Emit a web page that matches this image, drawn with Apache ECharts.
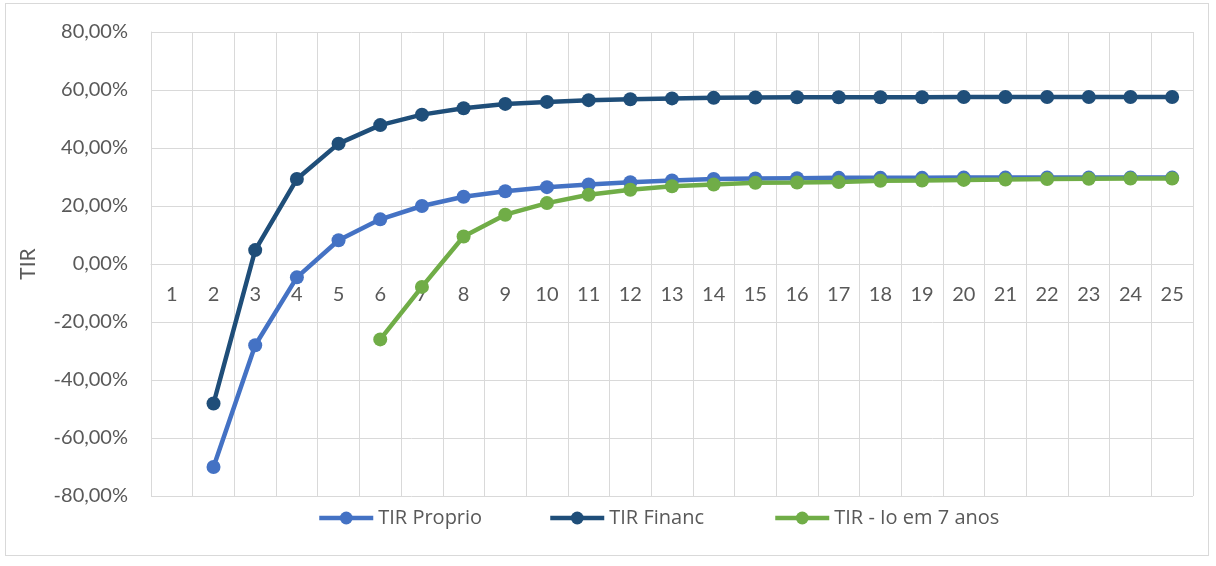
<!DOCTYPE html>
<html>
<head>
<meta charset="utf-8">
<script src="https://cdn.jsdelivr.net/npm/echarts@6/dist/echarts.min.js"></script>
<style>
  html, body { margin: 0; padding: 0; background: #fff; }
  #frame { position: absolute; left: 5px; top: 3px; width: 1204px; height: 553px; border: 1px solid #d9d9d9; box-sizing: border-box; }
  #chart { position: absolute; left: 0; top: 0; width: 1216px; height: 566px; }
</style>
</head>
<body>
<div id="frame"></div>
<div id="chart"></div>
<script>
// anos 1..25
const anos = ['1','2','3','4','5','6','7','8','9','10','11','12','13','14','15','16','17','18','19','20','21','22','23','24','25']
const yTicks = [-80, -60, -40, -20, 0, 20, 40, 60, 80]

// TIR em %
const tirProprio = [null, -70.0, -28.0, -4.6, 8.2, 15.4, 20.0, 23.2, 25.1, 26.5, 27.4, 28.2, 28.8, 29.3, 29.5, 29.6, 29.7, 29.7, 29.7, 29.8, 29.8, 29.8, 29.8, 29.8, 29.8]
const tirFinanc = [null, -48.1, 4.8, 29.3, 41.5, 47.9, 51.5, 53.7, 55.2, 55.9, 56.5, 56.8, 57.1, 57.3, 57.4, 57.5, 57.5, 57.5, 57.5, 57.6, 57.6, 57.6, 57.6, 57.6, 57.6]
const tirIo7 = [null, null, null, null, null, -26.0, -7.9, 9.5, 17.0, 21.0, 23.9, 25.6, 26.8, 27.4, 28.0, 28.1, 28.3, 28.7, 28.8, 29.0, 29.1, 29.3, 29.4, 29.5, 29.5]

const serieNames = ['TIR Proprio', 'TIR Financ', 'TIR - Io em 7 anos']
const serieColors = ['#4472C4', '#1F4E79', '#70AD47']

const txtColor = '#595959'
const fontFam = 'Lato, "Open Sans", sans-serif'

let mychart = echarts.init(document.getElementById('chart'))

function mkSeries (name, data, color) {
  return {
    name: name,
    type: 'line',
    data: data,
    symbol: 'circle',
    symbolSize: 14,
    connectNulls: false,
    lineStyle: { width: 4.5, color: color },
    itemStyle: { color: color },
    emphasis: { disabled: true },
    z: 3
  }
}

// one legend per item so each sits where Excel put it
const legendLeft = [312, 543, 768]
let legends = serieNames.map(function (n, i) {
  return {
    data: [n],
    left: legendLeft[i],
    top: 503,
    itemWidth: 54,
    itemHeight: 16,
    lineStyle: { width: 4.5 },
    textStyle: { color: txtColor, fontSize: 20, fontFamily: '"Open Sans", sans-serif' }
  }
})

let myoption = {
  animation: false,
  grid: { left: 151, right: 23, top: 32, bottom: 70 },
  legend: legends,
  xAxis: {
    type: 'category',
    data: anos,
    boundaryGap: true,
    offset: -232,
    axisLine: { onZero: false, lineStyle: { color: '#d9d9d9', width: 1 } },
    axisTick: { show: false },
    axisLabel: { color: txtColor, fontSize: 20, fontFamily: fontFam, margin: 21, interval: 0 },
    splitLine: { show: true, interval: 0, lineStyle: { color: '#d9d9d9', width: 1 } }
  },
  yAxis: {
    type: 'value',
    min: yTicks[0],
    max: yTicks[yTicks.length - 1],
    interval: 20,
    name: 'TIR',
    nameLocation: 'middle',
    nameRotate: 90,
    nameGap: 112,
    nameTextStyle: { color: txtColor, fontSize: 21, fontFamily: fontFam },
    axisLine: { show: true, lineStyle: { color: '#d9d9d9' } },
    axisTick: { show: false },
    axisLabel: {
      color: txtColor,
      fontSize: 20,
      fontFamily: fontFam,
      margin: 23,
      formatter: function (v) { return v.toFixed(2).replace('.', ',') + '%' }
    },
    splitLine: { show: true, lineStyle: { color: '#d9d9d9', width: 1 } }
  },
  series: [
    mkSeries(serieNames[0], tirProprio, serieColors[0]),
    mkSeries(serieNames[1], tirFinanc, serieColors[1]),
    mkSeries(serieNames[2], tirIo7, serieColors[2])
  ]
}
mychart.setOption(myoption)
</script>
</body>
</html>
